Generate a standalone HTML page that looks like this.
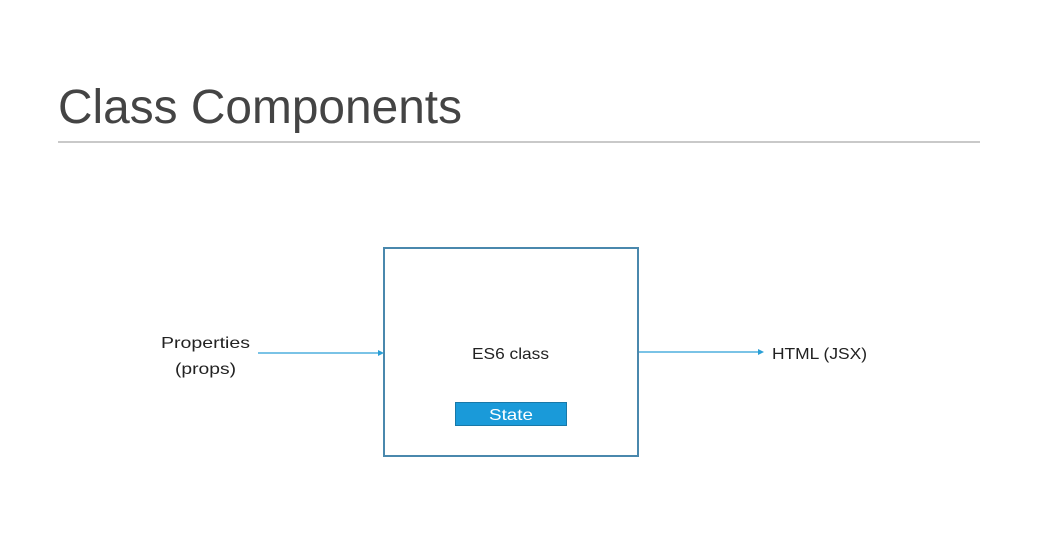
<!DOCTYPE html>
<html><head><style>
body{margin:0;background:#fff;width:1057px;height:542px;overflow:hidden}
</style></head><body>
<svg width="1057" height="542" xmlns="http://www.w3.org/2000/svg" font-family="Liberation Sans, sans-serif">
<text x="58" y="123" font-size="48" fill="#444" textLength="404" lengthAdjust="spacingAndGlyphs">Class Components</text>
<line x1="58" y1="142" x2="980" y2="142" stroke="#c9c9c9" stroke-width="2"/>
<rect x="384" y="248" width="254" height="208" fill="#fff" stroke="#4a88ad" stroke-width="2"/>
<rect x="455.5" y="402.5" width="111" height="23" fill="#1a9ad9" stroke="#1878a8" stroke-width="1"/>
<text x="489" y="420" font-size="16" fill="#fff" textLength="44" lengthAdjust="spacingAndGlyphs">State</text>
<text x="472" y="359" font-size="16" fill="#222" textLength="77" lengthAdjust="spacingAndGlyphs">ES6 class</text>
<text x="161" y="348" font-size="16" fill="#222" textLength="89" lengthAdjust="spacingAndGlyphs">Properties</text>
<text x="175" y="374" font-size="16" fill="#222" textLength="61" lengthAdjust="spacingAndGlyphs">(props)</text>
<text x="772" y="359" font-size="16" fill="#222" textLength="95" lengthAdjust="spacingAndGlyphs">HTML (JSX)</text>
<line x1="258" y1="353" x2="380" y2="353" stroke="#2a9fd6" stroke-width="1.3"/>
<polygon points="384,353 378,350 378,356" fill="#2a9fd6"/>
<line x1="639" y1="352" x2="759" y2="352" stroke="#2a9fd6" stroke-width="1.3"/>
<polygon points="764,352 758,349 758,355" fill="#2a9fd6"/>
</svg>
</body></html>
